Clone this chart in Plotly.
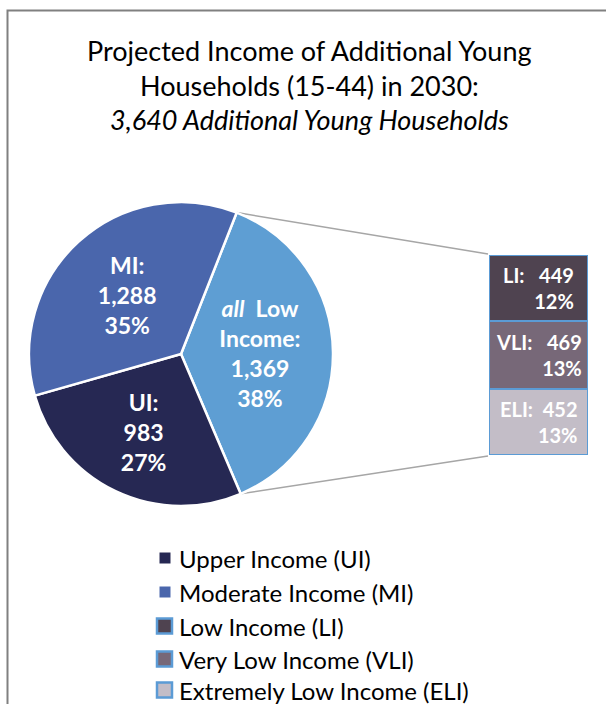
import math
import plotly.graph_objects as go

W, H = 606, 704

# ---- data ----
pie_labels = ["all Low Income", "UI", "MI"]
pie_values = [1369, 983, 1288]
pie_pcts = [38, 27, 35]
pie_colors = ["#5E9ED3", "#262853", "#4A66AC"]

bar_labels = ["ELI", "VLI", "LI"]          # bottom -> top
bar_values = [452, 469, 449]
bar_pcts = [13, 13, 12]
bar_colors = ["#C3BDC7", "#776878", "#4F4350"]

legend_names = ["Upper Income (UI)", "Moderate Income (MI)", "Low Income (LI)",
                "Very Low Income (VLI)", "Extremely Low Income (ELI)"]
legend_colors = ["#262853", "#4A66AC", "#4F4350", "#776878", "#C3BDC7"]
legend_bordered = [False, False, True, True, True]

title_lines = ["Projected Income of Additional Young",
               "Households (15-44) in 2030:",
               "<i>3,640 Additional Young Households</i>"]

FONT = "Lato"
EDGE = "#5B9BD5"

def px(x):
    return x / W

def py(y):
    return 1 - y / H

# pie geometry (pixels)
cx, cy, r = 181, 354, 152
rotation = 21.5

pie_text = []
for lab, v, p in zip(pie_labels, pie_values, pie_pcts):
    if lab == "all Low Income":
        pie_text.append(f"<i>all</i>  Low<br>Income:<br>{v:,}<br>{p}%")
    else:
        pie_text.append(f"{lab}:<br>{v:,}<br>{p}%")

fig = go.Figure()
fig.add_trace(go.Pie(
    labels=pie_labels, values=pie_values, text=pie_text,
    textinfo="text", sort=False, direction="clockwise", rotation=rotation,
    marker=dict(colors=pie_colors, line=dict(color="white", width=2.5)),
    textposition="inside", insidetextorientation="horizontal",
    insidetextfont=dict(family=FONT, size=23, color="white", weight="bold"),
    domain=dict(x=[px(cx - r), px(cx + r)], y=[py(cy + r), py(cy - r)]),
    showlegend=False, hoverinfo="label+value",
))

# stacked bar
bx0, bx1, by0, by1 = 489, 588, 255, 455
total = sum(bar_values)
for lab, v, c in zip(bar_labels, bar_values, bar_colors):
    fig.add_trace(go.Bar(
        x=[0], y=[v], name=lab, marker=dict(color=c, line=dict(color=EDGE, width=2.5)),
        xaxis="x2", yaxis="y2", showlegend=False, width=1,
    ))

fig.update_layout(
    barmode="stack", bargap=0,
    xaxis2=dict(domain=[px(bx0), px(bx1)], range=[-0.5, 0.5], visible=False, anchor="y2"),
    yaxis2=dict(domain=[py(by1), py(by0)], range=[0, total], visible=False, anchor="x2"),
    xaxis=dict(visible=False), yaxis=dict(visible=False),
    width=W, height=H, margin=dict(l=0, r=0, t=0, b=0),
    paper_bgcolor="white", plot_bgcolor="white",
)

annotations = []
# bar labels
cum = 0
for lab, v, p in zip(bar_labels, bar_values, bar_pcts):
    mid = cum + v / 2
    cum += v
    gap = "  " if lab == "ELI" else "   "
    annotations.append(dict(
        x=0, y=mid, xref="x2", yref="y2", text=f"{lab}:{gap}{v}<br>{p}%",
        showarrow=False, align="right", xanchor="center", yanchor="middle",
        font=dict(family=FONT, size=20, color="white", weight="bold"),
    ))

# title
for i, (t, yy) in enumerate(zip(title_lines, [50, 85, 120])):
    annotations.append(dict(
        x=px(309), y=py(yy), xref="paper", yref="paper", text=t, showarrow=False,
        xanchor="center", yanchor="middle", font=dict(family=FONT, size=27, color="black"),
    ))

# legend
legend_y = [558, 592, 626, 659, 690]
shapes = []
for name, col, bord, yy in zip(legend_names, legend_colors, legend_bordered, legend_y):
    annotations.append(dict(
        x=px(177), y=py(yy), xref="paper", yref="paper", text=name, showarrow=False,
        xanchor="left", yanchor="middle", font=dict(family=FONT, size=24, color="black"),
    ))
    if bord:
        s = 7.5
        shapes.append(dict(type="rect", xref="paper", yref="paper",
                           x0=px(164.5 - s), x1=px(164.5 + s), y0=py(yy + s), y1=py(yy - s),
                           fillcolor=col, line=dict(color=EDGE, width=2.5)))
    else:
        s = 5.5
        shapes.append(dict(type="rect", xref="paper", yref="paper",
                           x0=px(165 - s), x1=px(165 + s), y0=py(yy + s), y1=py(yy - s),
                           fillcolor=col, line=dict(width=0)))

# connector lines from low-income slice edges to the bar
frac_low = pie_values[0] / sum(pie_values)
a1 = math.radians(rotation)
a2 = math.radians(rotation + 360 * frac_low)
p1 = (cx + r * math.sin(a1), cy - r * math.cos(a1))
p2 = (cx + r * math.sin(a2), cy - r * math.cos(a2))
shapes.append(dict(type="line", xref="paper", yref="paper",
                   x0=px(p1[0]), y0=py(p1[1]), x1=px(bx0 - 1), y1=py(by0 - 1),
                   line=dict(color="#A6A6A6", width=1.5), layer="below"))
shapes.append(dict(type="line", xref="paper", yref="paper",
                   x0=px(p2[0]), y0=py(p2[1]), x1=px(bx0 - 1), y1=py(by1 + 1),
                   line=dict(color="#A6A6A6", width=1.5), layer="below"))

# outer chart border
shapes.append(dict(type="rect", xref="paper", yref="paper",
                   x0=px(7.5), y0=py(730), x1=px(630), y1=py(10.5),
                   line=dict(color="#808080", width=2), fillcolor="rgba(0,0,0,0)"))

fig.update_layout(annotations=annotations, shapes=shapes)
fig.write_html("out.html", config={"displayModeBar": False},
               post_script="document.body.style.margin='0';document.body.style.overflow='hidden';")
